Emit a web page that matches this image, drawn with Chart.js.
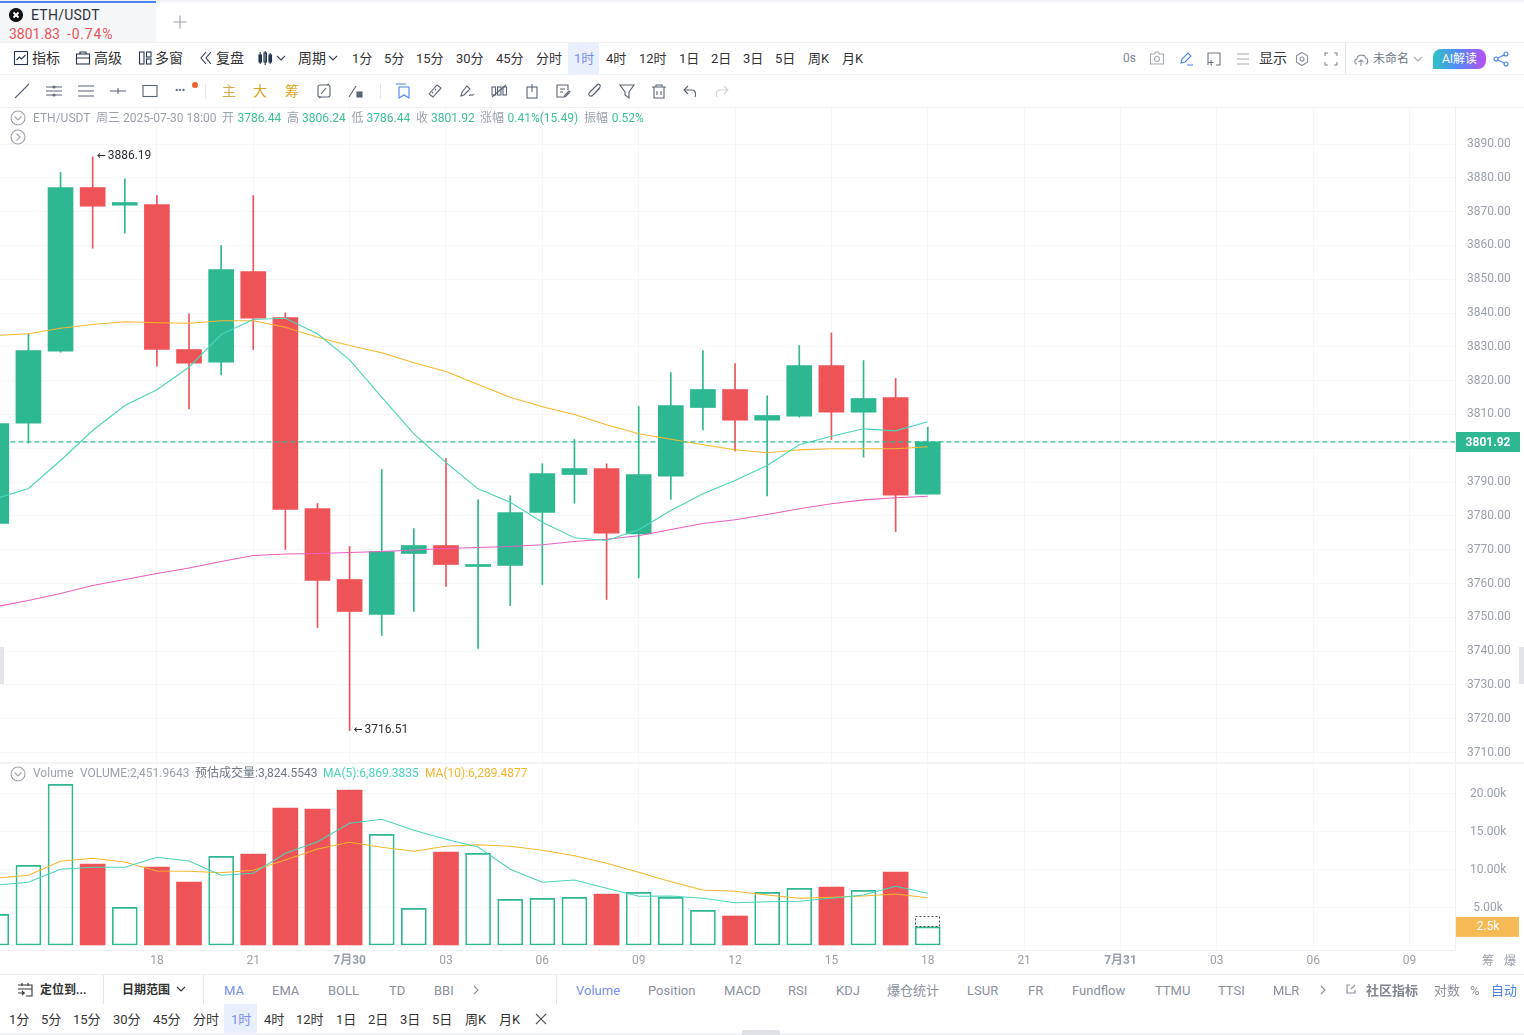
<!DOCTYPE html>
<html lang="zh-CN">
<head>
  <meta charset="UTF-8">
  <title>ETH/USDT</title>
  <script src="https://cdn.jsdelivr.net/npm/chart.js"></script>
  <style>
    html, body { margin: 0; padding: 0; background: #fff; }
    body { width: 1524px; height: 1035px; overflow: hidden; position: relative; font-family: Roboto, "Noto Sans CJK SC", sans-serif; }
    canvas { position: absolute; left: 0; display: block; }
    .t { position: absolute; white-space: nowrap; transform: translateY(-50%); line-height: 1; }
    .box { position: absolute; }
    svg { position: absolute; overflow: visible; fill: none; }
  </style>
</head>
<body>
  <canvas id="priceChart" width="1524" height="654" style="top:108px"></canvas>
  <canvas id="volumeChart" width="1524" height="210" style="top:764px"></canvas>

  <script>
    // candles, index 0 is the one cut off at the left edge
    const opens  = [3777.75,3807.42,3828.72,3877.13,3871.90,3872.11,3829.22,3825.46,3852.29,3838.68,3782.19,3761.20,3750.84,3768.88,3771.25,3765.04,3765.33,3781.01,3792.25,3794.02,3774.71,3791.75,3812.06,3817.39,3808.31,3809.49,3824.49,3810.67,3815.02,3786.44];
    const closes = [3807.33,3828.92,3877.13,3871.60,3872.70,3829.22,3825.17,3852.88,3838.48,3781.90,3760.90,3751.73,3769.47,3771.25,3765.63,3765.63,3781.01,3792.54,3794.02,3774.89,3792.25,3812.66,3817.39,3808.31,3809.70,3824.49,3810.67,3814.73,3786.13,3801.92];
    const highs  = [3812.00,3833.95,3881.57,3886.19,3879.71,3874.77,3839.78,3859.98,3874.77,3840.07,3783.67,3770.95,3793.73,3776.28,3796.98,3784.85,3785.95,3795.41,3802.60,3795.41,3812.36,3822.42,3828.92,3825.08,3815.53,3830.40,3834.16,3825.97,3820.73,3806.24];
    const lows   = [3775.00,3801.51,3828.42,3859.18,3863.62,3824.28,3811.68,3821.74,3829.22,3770.06,3747.00,3716.51,3744.63,3751.73,3759.12,3740.78,3753.50,3759.71,3783.76,3755.28,3761.70,3784.94,3805.47,3799.14,3785.95,3809.20,3802.60,3797.37,3775.39,3786.44];
    const ma5    = [3785.15,3788.11,3796.39,3805.26,3812.66,3817.30,3823.98,3833.66,3838.09,3838.48,3833.86,3826.17,3815.11,3804.29,3795.80,3788.02,3784.05,3778.14,3773.53,3772.73,3775.89,3781.60,3786.54,3790.47,3794.91,3801.03,3803.58,3805.76,3805.17,3807.83];
    const ma10   = [3833.36,3833.86,3835.52,3836.61,3837.41,3837.12,3837.00,3837.71,3837.71,3835.82,3832.86,3830.40,3828.24,3825.29,3822.71,3818.87,3815.11,3812.27,3810.00,3806.95,3804.29,3802.69,3801.03,3799.55,3798.67,3799.55,3799.85,3799.85,3799.85,3800.44];
    const ma30   = [3753.21,3754.98,3757.05,3759.42,3761.20,3762.97,3764.59,3766.52,3768.29,3768.73,3768.88,3769.18,3769.47,3769.92,3770.36,3770.66,3770.95,3771.46,3772.43,3773.11,3774.12,3775.98,3777.76,3778.85,3780.42,3782.10,3783.58,3784.76,3785.36,3785.83];
    const lastPrice = 3801.92;
    const priceTicks = [3890,3880,3870,3860,3850,3840,3830,3820,3810,3800,3790,3780,3770,3760,3750,3740,3730,3720,3710];

    const volumes = [4105,10553,21211,10724,5026,10329,8355,11737,12040,18092,17961,20461,14632,4895,12303,12132,6079,6211,6342,6776,7000,6342,4632,3882,7000,7526,7697,7263,9671,2451.96];
    const volMa5  = [7961,8316,10026,10290,10290,11605,11119,9237,9500,12132,13658,16079,16605,15158,13974,12961,10026,8316,8618,7526,6474,6513,6211,5632,5763,5816,6211,6645,7789,6869];
    const volMa10 = [8882,9237,11079,11474,10987,9803,9763,9579,9895,11250,12697,13579,12921,12395,13053,13263,13053,12526,11816,10816,9632,8395,7303,7132,6645,6211,6342,6513,6776,6289];
    const estVolume = 3824.55;
    const volumeTicks = [20000,15000,10000,5000,0];

    const xTickIndex  = [5,8,11,14,17,20,23,26,29,32,35,38,41,44];
    const xTickLabels = ['18','21','7月30','03','06','09','12','15','18','21','7月31','03','06','09'];

    const UP = '#2db892', DOWN = '#ee5358', MA5 = '#4ad5b8', MA10 = '#f8b62d', MA30 = '#e960bd';
    const GRID = '#f6f7f9', AXIS = '#eef0f3', LABEL = '#9ba1ac';
    const FONT = 'Roboto, "Noto Sans CJK SC", sans-serif';
    const X_MIN = 0.115, X_MAX = 45.415;

    const isUp = opens.map((o, i) => closes[i] >= o);
    const ranged = (a, b) => a.map((v, i) => ({ x: i, y: [v, b[i]] }));
    const points = arr => arr.map((v, i) => ({ x: i, y: v }));
    const line = (data, color, order) => ({ type: 'line', data: points(data), borderColor: color, borderWidth: 1.1, pointRadius: 0, tension: 0, order });

    // the layout adds half a label (and tick padding) around each axis, the panes have to fill the canvas
    function noPadding(s) {
      s.paddingTop = 0; s.paddingBottom = 0; s.paddingLeft = 0; s.paddingRight = 0;
    }

    function xAxis(showLabels) {
      return {
        type: 'linear', min: X_MIN, max: X_MAX, offset: false,
        afterBuildTicks: s => { s.ticks = xTickIndex.map(v => ({ value: v })); },
        afterFit: s => { s.height = showLabels ? 24 : 0; noPadding(s); },
        border: { display: showLabels, color: AXIS },
        grid: { color: GRID, offset: false, drawTicks: false },
        ticks: {
          display: showLabels, autoSkip: false, maxRotation: 0, padding: 4, color: LABEL,
          font: c => ({ family: FONT, size: 12, weight: xTickLabels[c.index] && xTickLabels[c.index].includes('月') ? 'bold' : 'normal' }),
          callback: (v, i) => xTickLabels[i]
        }
      };
    }

    function yAxis(min, max, ticks, gap, format) {
      return {
        position: 'right', min, max, beginAtZero: false,
        afterBuildTicks: s => { s.ticks = ticks.map(v => ({ value: v })); },
        afterFit: s => { s.width = 69; noPadding(s); },
        border: { color: AXIS },
        grid: { color: GRID, drawTicks: true, tickLength: gap, tickColor: 'rgba(0,0,0,0)' },
        ticks: { autoSkip: false, color: LABEL, padding: 0, crossAlign: 'center', font: { family: FONT, size: 12 }, callback: format }
      };
    }

    // last price tag and the high / low marks, placed through the scales
    const pricePlugin = {
      id: 'priceMarks',
      afterDraw(c) {
        const { ctx, scales: { x, y } } = c;
        ctx.save();
        ctx.textBaseline = 'middle';
        ctx.textAlign = 'left';
        ctx.fillStyle = '#2b2f36';
        const mark = (i, v) => {
          const px = x.getPixelForValue(i), py = y.getPixelForValue(v);
          ctx.font = 'bold 9px ' + FONT;
          ctx.fillText('←', px + 4, py);
          ctx.font = '12px ' + FONT;
          ctx.fillText(v.toFixed(2), px + 15, py - 1);
        };
        const hi = Math.max(...highs), lo = Math.min(...lows);
        mark(highs.indexOf(hi), hi);
        mark(lows.indexOf(lo), lo);
        const py = Math.round(y.getPixelForValue(lastPrice));
        ctx.fillStyle = UP;
        ctx.fillRect(1456, py - 10, 64, 20);
        ctx.fillStyle = '#fff';
        ctx.font = 'bold 12px ' + FONT;
        ctx.textAlign = 'center';
        ctx.fillText(lastPrice.toFixed(2), 1488, py + 0.5);
        ctx.restore();
      }
    };

    const lastLine = line([], UP, 0);
    lastLine.data = [{ x: 0.44, y: lastPrice }, { x: X_MAX, y: lastPrice }];
    lastLine.borderDash = [5, 3];
    lastLine.borderWidth = 1.3;

    new Chart(document.getElementById('priceChart'), {
      type: 'bar',
      plugins: [pricePlugin],
      data: {
        datasets: [
          lastLine,
          line(ma5, MA5, 1),
          line(ma10, MA10, 1),
          line(ma30, MA30, 1),
          { data: ranged(opens, closes), backgroundColor: isUp.map(u => u ? UP : DOWN), barThickness: 25, grouped: false, order: 2 },
          { data: ranged(lows, highs), backgroundColor: isUp.map(u => u ? UP : DOWN), barThickness: 1, grouped: false, order: 3 }
        ]
      },
      options: {
        responsive: false, animation: false, events: [],
        layout: { padding: 0 },
        plugins: { legend: { display: false }, tooltip: { enabled: false } },
        scales: {
          x: xAxis(false),
          y: yAxis(3707.22, 3900.65, priceTicks, 12, v => v.toFixed(2))
        }
      }
    });

    const volumePlugin = {
      id: 'volumeMarks',
      afterDraw(c) {
        const { ctx, scales: { x, y } } = c;
        const n = volumes.length - 1, cx = x.getPixelForValue(n);
        ctx.save();
        ctx.setLineDash([2, 2]);
        ctx.strokeStyle = '#444';
        ctx.lineWidth = 1;
        ctx.strokeRect(Math.round(cx - 12.5) + 0.5, Math.round(y.getPixelForValue(estVolume)) + 0.5, 24, Math.round(y.getPixelForValue(volumes[n]) - y.getPixelForValue(estVolume)));
        ctx.setLineDash([]);
        const py = y.getPixelForValue(volumes[n]);
        ctx.fillStyle = '#f5b955';
        ctx.fillRect(1456, py - 10, 63, 20);
        ctx.fillStyle = '#fff';
        ctx.font = '12px ' + FONT;
        ctx.textAlign = 'center';
        ctx.textBaseline = 'middle';
        ctx.fillText((volumes[n] / 1000).toFixed(1) + 'k', 1488, py);
        ctx.restore();
      }
    };

    new Chart(document.getElementById('volumeChart'), {
      type: 'bar',
      plugins: [volumePlugin],
      data: {
        datasets: [
          line(volMa5, MA5, 1),
          line(volMa10, MA10, 1),
          {
            data: points(volumes), barThickness: 25, grouped: false, order: 2,
            backgroundColor: isUp.map(u => u ? 'rgba(255,255,255,0)' : DOWN),
            borderColor: isUp.map(u => u ? UP : DOWN),
            borderWidth: isUp.map(u => u ? 1 : 0),
            borderSkipped: false
          }
        ]
      },
      options: {
        responsive: false, animation: false, events: [],
        layout: { padding: 0 },
        plugins: { legend: { display: false }, tooltip: { enabled: false } },
        scales: {
          x: xAxis(true),
          y: yAxis(-592, 23882, volumeTicks, 15, v => v === 0 ? '' : (v / 1000).toFixed(2) + 'k')
        }
      }
    });

    // page chrome around the two panes
    function text(x, y, str, color, size, bold) {
      const el = document.createElement('span');
      el.className = 't';
      el.textContent = str;
      el.style.cssText = `left:${x}px;top:${y}px;color:${color || '#333'};font-size:${size || 13}px;font-weight:${bold ? 700 : 400}`;
      document.body.appendChild(el);
      return el;
    }
    function box(x, y, w, h, css) {
      const el = document.createElement('div');
      el.className = 'box';
      el.style.cssText = `left:${x}px;top:${y}px;width:${w}px;height:${h}px;${css}`;
      document.body.appendChild(el);
      return el;
    }
    function icon(x, y, color, inner) {
      const wrap = document.createElement('div');
      wrap.innerHTML = `<svg width="16" height="16" viewBox="0 0 16 16" style="left:${x - 8}px;top:${y - 8}px;stroke:${color};stroke-width:1.1">${inner}</svg>`;
      document.body.appendChild(wrap.firstChild);
    }

    const INK = '#3c4654', SOFT = '#7f8897', ACTIVE = '#7b8df0';
    const chevron = (x, y, c) => icon(x, y, c || SOFT, '<path d="M4 6l4 4 4-4"/>');
    const circled = (x, y, d) => icon(x, y, '#9ba1ac', `<circle cx="8" cy="8" r="7"/><path d="${d}"/>`);

    // tab strip
    box(0, 0, 1524, 2, 'background:#f1f2f7');
    box(0, 3, 156, 39, 'background:#f5f6f8');
    box(0, 1, 156, 2, 'background:#4c82ee');
    icon(16, 15, '#111', '<circle cx="8" cy="8" r="6.5" fill="#111"/><path d="M5.5 5.5l5 5M10.5 5.5l-5 5" stroke="#fff" stroke-width="2"/>');
    text(31, 15, 'ETH/USDT', '#2f343c', 14).style.letterSpacing = '0.25px';
    text(9, 34, '3801.83', '#ee5358', 14);
    text(67, 34, '-0.74%', '#ee5358', 14).style.letterSpacing = '0.8px';
    icon(180, 22, '#9ba1ac', '<path d="M1.5 8h13M8 1.5v13"/>');
    box(0, 42, 1524, 1, 'background:#eef0f3');
    box(0, 74, 1524, 1, 'background:#f0f1f4');
    box(0, 107, 1524, 1, 'background:#f0f1f4');

    // period toolbar
    const topItems = [[32,'指标'],[94,'高级'],[155,'多窗'],[216,'复盘'],[298,'周期'],[352,'1分'],[384,'5分'],[416,'15分'],[456,'30分'],[496,'45分'],[536,'分时'],[606,'4时'],[639,'12时'],[679,'1日'],[711,'2日'],[743,'3日'],[775,'5日'],[808,'周K'],[842,'月K']];
    topItems.forEach(([x, s]) => text(x, 58, s, '#333', x < 300 ? 14 : 13));
    box(568, 43, 31, 31, 'background:#e9effc');
    text(574, 58, '1时', ACTIVE, 13);
    icon(21, 58, '#263650', '<rect x="1.5" y="1.5" width="13" height="13"/><path d="M3.5 10l3-3 2 2 4-4"/>');
    icon(83, 58, '#263650', '<rect x="1.5" y="4" width="13" height="10"/><path d="M1.5 8h13M5 4V2h6v2"/>');
    icon(145, 58, '#263650', '<rect x="2.5" y="2" width="4.5" height="12"/><rect x="9.5" y="2" width="4.5" height="5"/><rect x="9.5" y="9" width="4.5" height="5"/>');
    icon(206, 58, '#263650', '<path d="M8 2L3 8l5 6M13 2L8 8l5 6"/>');
    icon(265, 58, '#263650', '<rect x="2" y="5" width="2.5" height="7" fill="#263650"/><rect x="7" y="3" width="2.5" height="9"/><rect x="12" y="5" width="2.5" height="7" fill="#263650"/><path d="M3.2 2v12M8.2 1v14M13.2 3v11"/>');
    chevron(281, 58, INK);
    chevron(333, 58, INK);
    text(1123, 58, '0s', SOFT, 12);
    icon(1157, 58, '#a3a9b4', '<path d="M1.5 4h4l1-2h3l1 2h4v10h-13z"/><circle cx="8" cy="9" r="2.5"/>');
    icon(1186, 59, '#4c82ee', '<path d="M3 12l1-4 6-6 3 3-6 6zM9 14h6"/>');
    icon(1214, 59, '#6d7583', '<path d="M2 14V2h12v12h-4M6 14h-1M5 9v5M2.5 11.5h5"/>');
    icon(1243, 59, '#a3a9b4', '<path d="M2 3h12M2 8h12M2 13h12"/>');
    text(1259, 58, '显示', '#333', 14);
    icon(1302, 59, '#8b93a0', '<path d="M8 1.5l5.5 3.2v6.6L8 14.5l-5.5-3.2V4.7z"/><circle cx="8" cy="8" r="2"/>');
    icon(1331, 59, '#7f8897', '<path d="M2 5V2h3M11 2h3v3M14 11v3h-3M5 14H2v-3"/>');
    box(1345, 43, 1, 31, 'background:#e3e5ea');
    icon(1361, 60, '#8b93a0', '<path d="M4 12C1 12 1 7 4 7c0-5 8-5 8.500-1 3 0 3 6 0 6M8 14V8M5.500 10L8 8l2.500 2"/>');
    text(1373, 59, '未命名', '#6d7583', 12);
    chevron(1418, 59, '#a3a9b4');
    box(1433, 49, 53, 20, 'background:linear-gradient(90deg,#2fc4c4,#4f8cf5 45%,#b84ff5);border-radius:8px 8px 8px 0');
    text(1442, 59, 'AI解读', '#fff', 12);
    icon(1501, 59, '#4c82ee', '<circle cx="3" cy="8" r="2"/><circle cx="13" cy="3" r="2"/><circle cx="13" cy="13" r="2"/><path d="M5 7l6-3M5 9l6 3"/>');

    // drawing toolbar
    const tool = '#5a6475';
    icon(22, 91, tool, '<path d="M1 15L15 1"/>');
    icon(54, 91, tool, '<path d="M0 4h16M0 8h16M0 12h16"/><circle cx="8" cy="4" r="1"/><circle cx="8" cy="12" r="1"/>');
    icon(86, 91, tool, '<path d="M0 3h16M0 8h16M0 13h16"/>');
    icon(118, 91, tool, '<path d="M0 8h16M8 5v6"/>');
    icon(150, 91, tool, '<rect x="1" y="2.500" width="14" height="11"/>');
    text(175, 91, '•••', tool, 10);
    box(192, 82, 6, 6, 'background:#f0622d;border-radius:50%');
    box(205, 84, 1, 15, 'background:#e3e5ea');
    [[222,'主','#d9ab4b'],[253,'大','#d9a520'],[285,'筹','#d9a520']].forEach(([x, s, c]) => text(x, 91, s, c, 14));
    icon(324, 91, tool, '<rect x="2" y="2" width="12" height="12" rx="2"/><path d="M5 11l5-6M11 2l2-1M5 14l-2 1"/>');
    icon(356, 91, tool, '<path d="M1 14L8 3"/><rect x="9" y="9" width="5" height="5" fill="#5a6475"/>');
    box(380, 84, 1, 15, 'background:#e3e5ea');
    icon(403, 91, '#4c82ee', '<path d="M1 1h10M4 4h10v11l-5-3-5 3z"/>');
    icon(435, 91, tool, '<path d="M2 11L10 2l4 3-8 9zM5 9l1 1M8 6l1 1"/>');
    icon(467, 91, tool, '<path d="M2 13l1-4 5-6 3 3-6 6zM10 13c2-3 3 1 5-2"/>');
    icon(499, 91, tool, '<rect x="1" y="4" width="3.500" height="8"/><rect x="6.500" y="4" width="3.500" height="8"/><rect x="12" y="4" width="3.500" height="8"/><path d="M1 14L15 2"/>');
    icon(532, 91, tool, '<rect x="3" y="4" width="10" height="11"/><path d="M8 1v8"/>');
    icon(563, 91, tool, '<path d="M13 7V2H2v12h6M5 6h5M5 9h3M9 14l1-2 4-4 1 1-4 4z"/>');
    icon(595, 91, tool, '<path d="M13 5L6 12c-3 3-6-1-3-3l7-7c2-2 4 0 3 2l-6 7"/>');
    icon(627, 91, tool, '<path d="M1 2h14L10 9v6l-4-3V9z"/>');
    icon(659, 91, tool, '<path d="M1 4h14M5 4V2h6v2M3 4v11h10V4M6 8v4M10 8v4"/>');
    icon(690, 91, tool, '<path d="M6 3L2 7l4 4M2 7h8c4 0 4 5 3 7"/>');
    icon(722, 91, '#cfd3da', '<path d="M10 3l4 4-4 4M14 7H6c-4 0-4 5-3 7"/>');

    // price legend
    circled(18, 118, 'M4.500 6.500L8 10l3.500-3.500');
    circled(18, 137, 'M6.500 4.500L10 8l-3.500 3.500');
    const GREEN_TXT = '#3cc19a';
    text(33, 118, 'ETH/USDT', LABEL, 12);
    text(96, 118, '周三 2025-07-30 18:00', LABEL, 12);
    [[222,'开',237.500,'3786.44'],[287,'高',302,'3806.24'],[351.500,'低',366.500,'3786.44'],[416,'收',431,'3801.92'],[480,'涨幅',507.500,'0.41%(15.49)'],[584,'振幅',611.700,'0.52%']].forEach(([a, k, b, v]) => {
      text(a, 118, k, LABEL, 12);
      text(b, 118, v, GREEN_TXT, 12);
    });

    // volume legend
    circled(18, 774, 'M4.500 6.500L8 10l3.500-3.500');
    text(33, 773, 'Volume', LABEL, 12);
    text(80, 773, 'VOLUME:2,451.9643', LABEL, 12);
    text(195, 773, '预估成交量:3,824.5543', '#6d7583', 12);
    text(323, 773, 'MA(5):6,869.3835', MA5, 12);
    text(425, 773, 'MA(10):6,289.4877', MA10, 12);
    box(0, 762, 1524, 2, 'background:#f3f4f6');

    // indicator bars under the chart
    text(1482, 961, '筹', LABEL, 12);
    text(1504, 961, '爆', LABEL, 12);
    box(0, 974, 1524, 1, 'background:#eef0f3');
    icon(25, 990, '#333', '<path d="M1 3h14v11H9M1 7h14M1 11h7M5 9l2 2-2 2M5 1v3M11 1v3"/>');
    text(40, 990, '定位到...', '#333', 12, true);
    box(103, 975, 1, 29, 'background:#e3e5ea');
    text(122, 990, '日期范围', '#333', 12, true);
    chevron(181, 989, '#333');
    box(203, 975, 1, 29, 'background:#e3e5ea');
    box(556, 975, 1, 29, 'background:#e3e5ea');
    const IND = '#8a909c';
    text(224, 990, 'MA', ACTIVE, 13);
    [[272,'EMA'],[328,'BOLL'],[389,'TD'],[434,'BBI'],[648,'Position'],[724,'MACD'],[788,'RSI'],[836,'KDJ'],[887,'爆仓统计'],[967,'LSUR'],[1028,'FR'],[1072,'Fundflow'],[1155,'TTMU'],[1218,'TTSI'],[1273,'MLR'],[1434,'对数'],[1470,'%']].forEach(([x, s]) => text(x, 990, s, IND, 13));
    text(576, 990, 'Volume', ACTIVE, 13);
    icon(476, 990, IND, '<path d="M6 4l4 4-4 4"/>');
    icon(1323, 990, IND, '<path d="M6 4l4 4-4 4"/>');
    icon(1351, 989, IND, '<path d="M7 4H4v8h8V9M8 8l4-4"/>');
    text(1366, 990, '社区指标', '#80868f', 13, true);
    text(1491, 990, '自动', '#4c82ee', 13);

    box(224, 1004, 33, 30, 'background:#e9effc');
    [[9,'1分'],[41,'5分'],[73,'15分'],[113,'30分'],[153,'45分'],[193,'分时'],[264,'4时'],[296,'12时'],[336,'1日'],[368,'2日'],[400,'3日'],[432,'5日'],[465,'周K'],[499,'月K']].forEach(([x, s]) => text(x, 1019, s, '#333', 13));
    text(231, 1019, '1时', ACTIVE, 13);
    icon(541, 1019, '#555', '<path d="M3 3l10 10M13 3L3 13"/>');
    box(0, 1033, 1524, 2, 'background:#f1f2f5');
    box(742, 1030, 38, 5, 'background:#dfe1e6;border-radius:2px 2px 0 0');
    box(0, 647, 4, 37, 'background:#e3e5ea');
    box(1519, 647, 5, 37, 'background:#e3e5ea');
  </script>
</body>
</html>
